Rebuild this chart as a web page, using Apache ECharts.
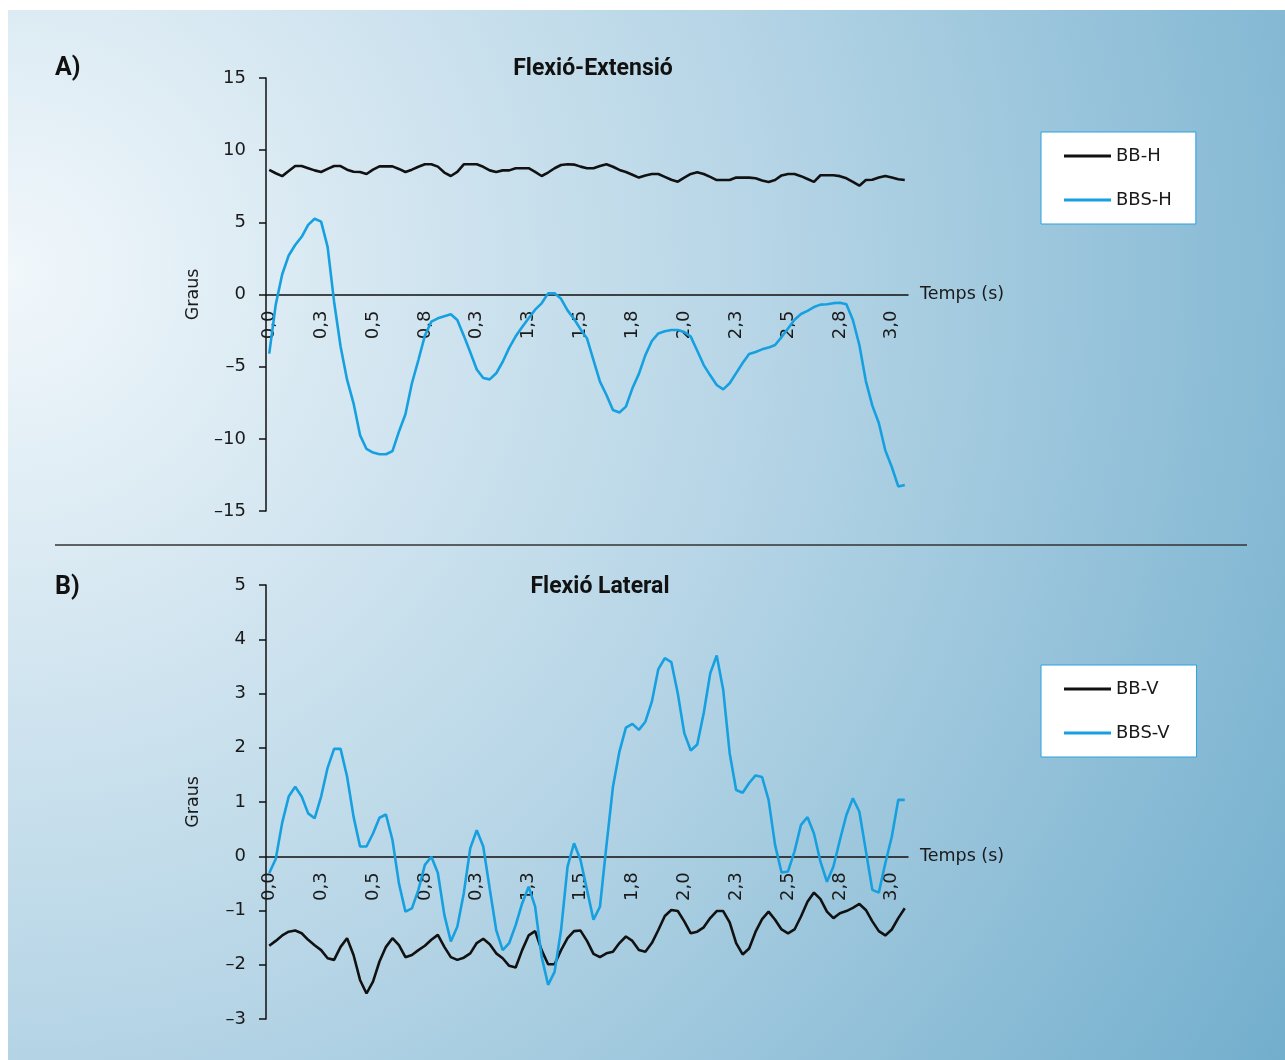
<!DOCTYPE html>
<html>
<head>
<meta charset="utf-8">
<script src="https://cdn.jsdelivr.net/npm/echarts@6/dist/echarts.min.js"></script>
<style>html,body{margin:0;padding:0;background:#fff}#c{width:1285px;height:1060px}</style>
</head>
<body>
<div id="c"></div>
<script>
// Tick labels shown every 8 samples (as printed in the original)
const tickLabels = ['0,0','0,3','0,5','0,8','0,3','1,3','1,5','1,8','2,0','2,3','2,5','2,8','3,0'];

// Panel A: Flexió-Extensió
const bbH = [
  8.63, 8.4, 8.2, 8.55, 8.9, 8.9, 8.75, 8.6, 8.49, 8.7,
  8.9, 8.9, 8.65, 8.5, 8.49, 8.35, 8.65, 8.88, 8.88, 8.88,
  8.7, 8.49, 8.65, 8.85, 9.02, 9.02, 8.86, 8.45, 8.21, 8.49,
  9.02, 9.02, 9.02, 8.85, 8.6, 8.49, 8.6, 8.6, 8.75, 8.75,
  8.75, 8.5, 8.21, 8.45, 8.75, 8.97, 9.02, 9.0, 8.86, 8.75,
  8.75, 8.9, 9.02, 8.85, 8.63, 8.49, 8.3, 8.1, 8.25, 8.35,
  8.35, 8.15, 7.95, 7.82, 8.1, 8.35, 8.47, 8.35, 8.15, 7.93,
  7.93, 7.93, 8.1, 8.1, 8.1, 8.05, 7.9, 7.8, 7.93, 8.25,
  8.35, 8.35, 8.2, 8.0, 7.8, 8.26, 8.26, 8.26, 8.2, 8.05,
  7.8, 7.54, 7.93, 7.95, 8.1, 8.21, 8.1, 7.98, 7.93
];
const bbsH = [
  -4.1, -0.7, 1.4, 2.7, 3.43, 4.0, 4.82, 5.25, 5.05, 3.3,
  -0.5, -3.6, -5.9, -7.54, -9.74, -10.7, -10.95, -11.07, -11.07, -10.85,
  -9.5, -8.3, -6.15, -4.54, -2.85, -1.88, -1.65, -1.5, -1.37, -1.77,
  -2.85, -4.0, -5.2, -5.78, -5.88, -5.46, -4.66, -3.7, -2.9, -2.25,
  -1.65, -1.05, -0.61, 0.08, 0.08, -0.3, -1.1, -1.7, -2.4, -3.04,
  -4.54, -6.04, -6.96, -8.0, -8.17, -7.77, -6.5, -5.5, -4.2, -3.22,
  -2.7, -2.55, -2.46, -2.46, -2.6, -2.92, -3.9, -4.89, -5.6, -6.27,
  -6.57, -6.15, -5.45, -4.75, -4.12, -3.98, -3.8, -3.68, -3.5, -2.95,
  -2.35, -1.75, -1.35, -1.13, -0.87, -0.7, -0.68, -0.6, -0.57, -0.68,
  -1.77, -3.5, -6.0, -7.7, -8.9, -10.8, -11.95, -13.3, -13.2
];

// Panel B: Flexió Lateral
const bbV = [
  -1.65, -1.56, -1.46, -1.39, -1.37, -1.42, -1.54, -1.64, -1.73, -1.88,
  -1.91, -1.67, -1.51, -1.82, -2.28, -2.53, -2.31, -1.94, -1.67, -1.51,
  -1.64, -1.86, -1.82, -1.73, -1.65, -1.54, -1.45, -1.67, -1.86, -1.91,
  -1.87, -1.79, -1.6, -1.52, -1.62, -1.79, -1.88, -2.02, -2.05, -1.73,
  -1.46, -1.38, -1.73, -1.99, -1.99, -1.73, -1.51, -1.38, -1.37, -1.56,
  -1.8, -1.86, -1.79, -1.76, -1.6, -1.48, -1.56, -1.73, -1.76, -1.6,
  -1.36, -1.1, -0.99, -1.01, -1.2, -1.42, -1.39, -1.31, -1.14, -1.01,
  -1.01, -1.22, -1.6, -1.81, -1.7, -1.39, -1.16, -1.02, -1.17, -1.35,
  -1.42, -1.35, -1.11, -0.84, -0.67, -0.79, -1.02, -1.14, -1.05, -1.01,
  -0.95, -0.88, -0.99, -1.2, -1.38, -1.46, -1.35, -1.14, -0.96
];
const bbsV = [
  -0.31, -0.05, 0.62, 1.1, 1.28, 1.1, 0.79, 0.7, 1.1, 1.63,
  1.98, 1.98, 1.47, 0.73, 0.18, 0.18, 0.42, 0.71, 0.77, 0.3,
  -0.5, -1.02, -0.96, -0.62, -0.16, -0.01, -0.31, -1.08, -1.57, -1.3,
  -0.68, 0.15, 0.48, 0.18, -0.6, -1.36, -1.73, -1.6, -1.27, -0.87,
  -0.56, -0.93, -1.85, -2.37, -2.13, -1.36, -0.19, 0.24, -0.07, -0.62,
  -1.17, -0.93, 0.2, 1.28, 1.93, 2.37, 2.44, 2.33, 2.48, 2.85,
  3.45, 3.65, 3.58, 3.0, 2.27, 1.95, 2.06, 2.64, 3.37, 3.7,
  3.07, 1.9, 1.22, 1.17, 1.35, 1.49, 1.46, 1.04, 0.21, -0.3,
  -0.28, 0.09, 0.58, 0.72, 0.42, -0.1, -0.47, -0.19, 0.3, 0.76,
  1.07, 0.82, 0.1, -0.62, -0.67, -0.13, 0.36, 1.04, 1.04
];

// y ranges
const rangeA = { min: -15, max: 15, interval: 5 };
const rangeB = { min: -3, max: 5, interval: 1 };

const categories = bbH.map((_, i) => String(i));

const FONT = 'DejaVu Sans';
const TXT = '#1a1a1a';
const BLUE = '#16a0e0';
const BLACK = '#111111';

const gridA = { left: 266, top: 78, width: 642, height: 433 };
const gridB = { left: 266, top: 585, width: 642, height: 434 };

// the x axis (with its labels) sits on the y = 0 line of its panel
function zeroOffset(grid, r) {
  return -grid.height * (0 - r.min) / (r.max - r.min);
}

function xAxis(gi, grid, r) {
  return {
    type: 'category', gridIndex: gi, data: categories, boundaryGap: true,
    position: 'bottom', offset: zeroOffset(grid, r),
    axisLine: { onZero: false, lineStyle: { color: '#111', width: 1.5 } },
    axisTick: { show: false },
    axisLabel: {
      interval: 7, rotate: 90, margin: 16, fontSize: 18, color: TXT, fontFamily: FONT,
      formatter: (v, idx) => (idx % 8 === 0 ? tickLabels[idx / 8] : '')
    },
    splitLine: { show: false },
    name: 'Temps (s)', nameLocation: 'end', nameGap: 12,
    nameTextStyle: { fontSize: 17.5, color: TXT, fontFamily: FONT }
  };
}
function yAxis(gi, r) {
  return {
    type: 'value', gridIndex: gi, min: r.min, max: r.max, interval: r.interval,
    axisLine: { show: true, onZero: false, lineStyle: { color: '#111', width: 1.5 } },
    axisTick: { show: true, inside: false, length: 7, lineStyle: { color: '#111', width: 1.5 } },
    axisLabel: { margin: 20, fontSize: 18, color: TXT, fontFamily: FONT,
      formatter: v => String(v).replace('-', '\u2013') },
    splitLine: { show: false },
    name: 'Graus', nameLocation: 'middle', nameGap: 64, nameRotate: 90,
    nameTextStyle: { fontSize: 17.5, color: TXT, fontFamily: FONT }
  };
}
function legend(names, top, padRight) {
  return {
    data: names, orient: 'vertical', left: 1041, top,
    backgroundColor: '#fff', borderColor: '#2aa3df', borderWidth: 1, borderRadius: 0,
    padding: [15, padRight, 15, 23], itemWidth: 47, itemHeight: 3, itemGap: 26, icon: 'rect',
    textStyle: { fontSize: 18, color: TXT, fontFamily: FONT }
  };
}

const chart = echarts.init(document.getElementById('c'), null, { renderer: 'canvas' });
chart.setOption({
  animation: false,
  backgroundColor: '#ffffff',
  grid: [gridA, gridB],
  xAxis: [xAxis(0, gridA, rangeA), xAxis(1, gridB, rangeB)],
  yAxis: [yAxis(0, rangeA), yAxis(1, rangeB)],
  legend: [legend(['BB-H', 'BBS-H'], 132, 24), legend(['BB-V', 'BBS-V'], 665, 27)],
  series: [
    { name: 'BB-H', type: 'line', xAxisIndex: 0, yAxisIndex: 0, data: bbH, symbol: 'none', color: BLACK, lineStyle: { width: 2.6, color: BLACK } },
    { name: 'BBS-H', type: 'line', xAxisIndex: 0, yAxisIndex: 0, data: bbsH, symbol: 'none', color: BLUE, lineStyle: { width: 2.6, color: BLUE } },
    { name: 'BB-V', type: 'line', xAxisIndex: 1, yAxisIndex: 1, data: bbV, symbol: 'none', color: BLACK, lineStyle: { width: 2.6, color: BLACK } },
    { name: 'BBS-V', type: 'line', xAxisIndex: 1, yAxisIndex: 1, data: bbsV, symbol: 'none', color: BLUE, lineStyle: { width: 2.6, color: BLUE } }
  ],
  graphic: [
    { type: 'rect', z: -10, silent: true, shape: { x: 8, y: 10, width: 1277, height: 1050 },
      style: { fill: new echarts.graphic.RadialGradient(0, 0.25, 1.45, [
        { offset: 0, color: '#f1f7fb' },
        { offset: 0.5, color: '#b6d5e6' },
        { offset: 1, color: '#70adcc' }
      ]) } },
    { type: 'line', silent: true, shape: { x1: 55, y1: 545, x2: 1247, y2: 545 }, style: { stroke: '#333', lineWidth: 1.5 } },
    { type: 'text', x: 55, y: 69, style: { text: 'A)', font: 'bold 25px Roboto', fill: '#111', verticalAlign: 'middle', textVerticalAlign: 'middle' } },
    { type: 'text', x: 55, y: 588, style: { text: 'B)', font: 'bold 25px Roboto', fill: '#111', verticalAlign: 'middle', textVerticalAlign: 'middle' } },
    { type: 'text', x: 593, y: 69, style: { text: 'Flexió-Extensió', font: 'bold 23px Roboto', fill: '#111', align: 'center', textAlign: 'center', verticalAlign: 'middle', textVerticalAlign: 'middle' } },
    { type: 'text', x: 600, y: 587, style: { text: 'Flexió Lateral', font: 'bold 23px Roboto', fill: '#111', align: 'center', textAlign: 'center', verticalAlign: 'middle', textVerticalAlign: 'middle' } }
  ]
});
</script>
</body>
</html>
